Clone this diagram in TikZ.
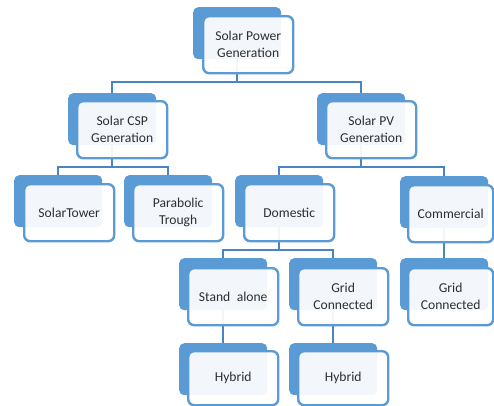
\documentclass[tikz,border=0pt]{standalone}
\usepackage{fontspec}
\setmainfont{Carlito}
\pgfdeclarelayer{bg}
\pgfsetlayers{bg,main}
\definecolor{bk}{HTML}{5B9BD5}
\definecolor{fr}{HTML}{5B9BD5}
\definecolor{ln}{HTML}{4A84C2}
\definecolor{tx}{HTML}{2E2E2E}
\begin{document}
\begin{tikzpicture}[x=1pt,y=-1pt,
 back/.style={fill=bk, rounded corners=5pt, minimum width=88pt, minimum height=52pt, anchor=north west, inner sep=0pt},
 front/.style={draw=fr, line width=2.4pt, fill=white, fill opacity=0.93, text opacity=1, rounded corners=6pt, minimum width=90pt, minimum height=57pt, anchor=north west, align=center, inner sep=0pt, font=\fontsize{13.6}{17}\selectfont, text=tx},
 narrow/.style={minimum width=85pt},
 short/.style={minimum height=54pt},
 conn/.style={draw=ln, line width=2pt}]
\useasboundingbox (0,0) rectangle (494,405);
% boxes
\node[back] (top-b) at (193,7) {};
\node[front] (top) at (202,15) {Solar Power\\Generation};
\node[back] (csp-b) at (68,93) {};
\node[front] (csp) at (76,100) {Solar CSP\\Generation};
\node[back] (pv-b) at (317,93) {};
\node[front] (pv) at (325,100) {Solar PV\\Generation};
\node[back] (st-b) at (14,175) {};
\node[front] (st) at (23,183) {SolarTower};
\node[back] (pt-b) at (124,175) {};
\node[front] (pt) at (132,183) {Parabolic\\Trough};
\node[back] (dom-b) at (235,175) {};
\node[front] (dom) at (243,183) {Domestic};
\node[back] (com-b) at (400,176) {};
\node[front,narrow] (com) at (407,184) {Commercial};
\node[back] (sa-b) at (179,258) {};
\node[front] (sa) at (187,267) {Stand\hspace{0.25em} alone};
\node[back] (gc-b) at (289,258) {};
\node[front] (gc) at (297,267) {Grid\\Connected};
\node[back] (gc2-b) at (400,258) {};
\node[front,narrow] (gc2) at (407,267) {Grid\\Connected};
\node[back] (hy1-b) at (179,343) {};
\node[front,short] (hy1) at (187,350) {Hybrid};
\node[back] (hy2-b) at (289,343) {};
\node[front,short] (hy2) at (297,350) {Hybrid};
% connectors
\coordinate (j1) at (236,82);
\coordinate (j2) at (112,167);
\coordinate (j3) at (360,167);
\coordinate (j4) at (278,250);
\begin{pgfonlayer}{bg}
\draw[conn] (top-b.center) -- (top-b.center |- j1) -| (csp-b.north);
\draw[conn] (top-b.center |- j1) -| (pv-b.north);
\draw[conn] (csp-b.center) -- (csp-b.center |- j2) -| (st-b.north);
\draw[conn] (csp-b.center |- j2) -| (pt-b.north);
\draw[conn] (pv-b.center) -- (pv-b.center |- j3) -| (dom-b.north);
\draw[conn] (pv-b.center |- j3) -| (com-b.north);
\draw[conn] (dom-b.center) -- (dom-b.center |- j4) -| (sa-b.north);
\draw[conn] (dom-b.center |- j4) -| (gc-b.north);
\draw[conn] (com-b.center) -- (gc2-b.north);
\draw[conn] (sa-b.center) -- (hy1-b.north);
\draw[conn] (gc-b.center) -- (hy2-b.north);
\end{pgfonlayer}
\end{tikzpicture}
\end{document}
